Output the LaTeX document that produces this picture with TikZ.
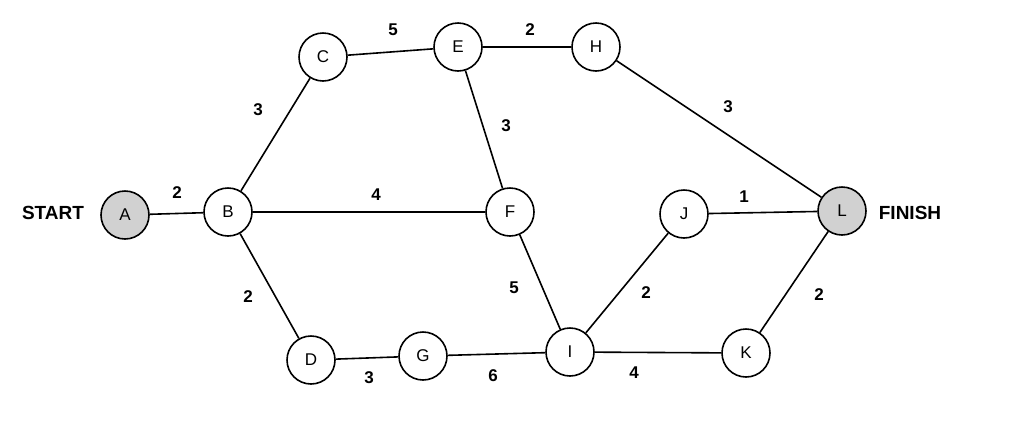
\documentclass[tikz,border=0pt]{standalone}
\usepackage{fontspec}
\setmainfont{Liberation Sans}
\begin{document}
\begin{tikzpicture}[x=1pt,y=-1pt,
  nd/.style={circle,draw,line width=1.6pt,minimum size=48pt,inner sep=0pt,font=\fontsize{17}{17}\selectfont},
  gn/.style={nd,fill=black!18},
  ed/.style={line width=1.6pt},
  lb/.style={font=\fontsize{17}{17}\selectfont\bfseries},
  tx/.style={font=\fontsize{19}{19}\selectfont\bfseries}]
\useasboundingbox (0,0) rectangle (1024,440);
\node[gn] (A) at (125,215) {A};
\node[nd] (B) at (228,212) {B};
\node[nd] (C) at (323,57) {C};
\node[nd] (E) at (458,47) {E};
\node[nd] (H) at (596,47) {H};
\node[nd] (F) at (510,212) {F};
\node[nd] (J) at (684,214) {J};
\node[gn] (L) at (842,211) {L};
\node[nd] (D) at (311,360) {D};
\node[nd] (G) at (423,356) {G};
\node[nd] (I) at (570,352) {I};
\node[nd] (K) at (746,353) {K};
\node[tx] (st) at (53,213) {START};
\node[tx] (fi) at (910,213) {FINISH};
\draw[ed] (A)--(B) (B)--(C) (C)--(E) (E)--(H) (H)--(L) (E)--(F) (B)--(F) (B)--(D)
 (D)--(G) (G)--(I) (F)--(I) (I)--(J) (J)--(L) (L)--(K) (I)--(K);
\node[lb] (l1) at (177,193) {2};
\node[lb] (l2) at (258,110) {3};
\node[lb] (l3) at (393,30) {5};
\node[lb] (l4) at (530,30) {2};
\node[lb] (l5) at (728,107) {3};
\node[lb] (l6) at (506,126) {3};
\node[lb] (l7) at (376,195) {4};
\node[lb] (l8) at (248,297) {2};
\node[lb] (l9) at (369,378) {3};
\node[lb] (l10) at (493,376) {6};
\node[lb] (l11) at (514,288) {5};
\node[lb] (l12) at (646,293) {2};
\node[lb] (l13) at (744,197) {1};
\node[lb] (l14) at (819,295) {2};
\node[lb] (l15) at (634,373) {4};
\end{tikzpicture}
\end{document}
